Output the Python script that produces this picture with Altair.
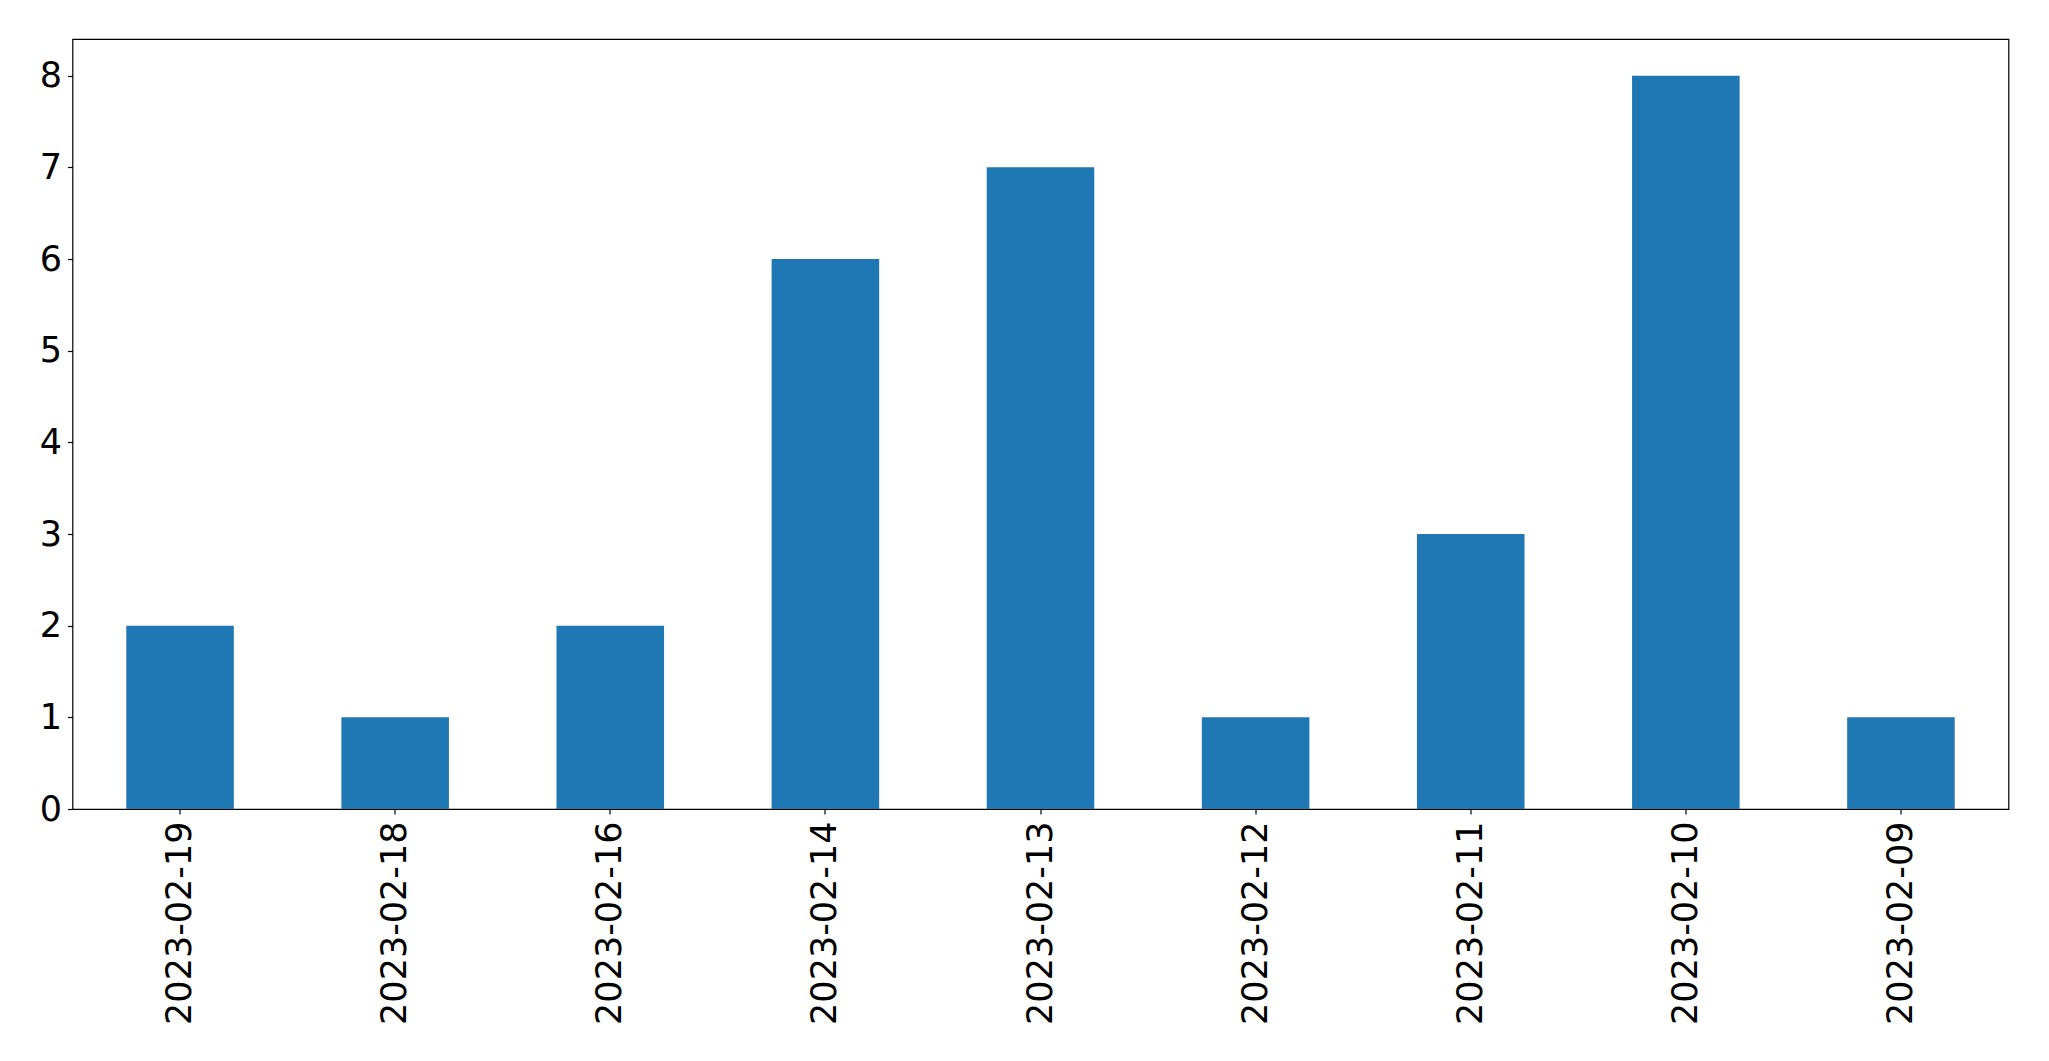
import altair as alt
import pandas as pd

dates = ["2023-02-19", "2023-02-18", "2023-02-16", "2023-02-14", "2023-02-13",
         "2023-02-12", "2023-02-11", "2023-02-10", "2023-02-09"]
counts = [2, 1, 2, 6, 7, 1, 3, 8, 1]
y_ticks = [0, 1, 2, 3, 4, 5, 6, 7, 8]

df = pd.DataFrame({"date": dates, "count": counts})

chart = alt.Chart(df).mark_bar(color="#1f77b4").encode(
    x=alt.X("date:N", sort=dates, title=None,
            scale=alt.Scale(paddingInner=0.5, paddingOuter=0.25),
            axis=alt.Axis(labelAngle=-90, labelFontSize=35, labelFont="DejaVu Sans",
                          labelColor="black", tickColor="black", tickSize=5, tickWidth=1.2,
                          labelPadding=7, labelLimit=0, domain=False, grid=False)),
    y=alt.Y("count:Q", title=None,
            scale=alt.Scale(domain=[0, 8.4], nice=False, zero=True),
            axis=alt.Axis(values=y_ticks, labelFontSize=35, labelFont="DejaVu Sans",
                          labelColor="black", tickColor="black", tickSize=5, tickWidth=1.2,
                          labelPadding=6, domain=False, grid=False)),
).properties(
    width=1936, height=770,
    autosize=alt.AutoSizeParams(type="none"),
    padding={"left": 64.5, "top": 31, "right": 30, "bottom": 240},
).configure(
    background="white"
).configure_view(
    stroke="black", strokeWidth=1.2
)

chart.save("out.html", embed_options={"renderer": "svg", "actions": False})
